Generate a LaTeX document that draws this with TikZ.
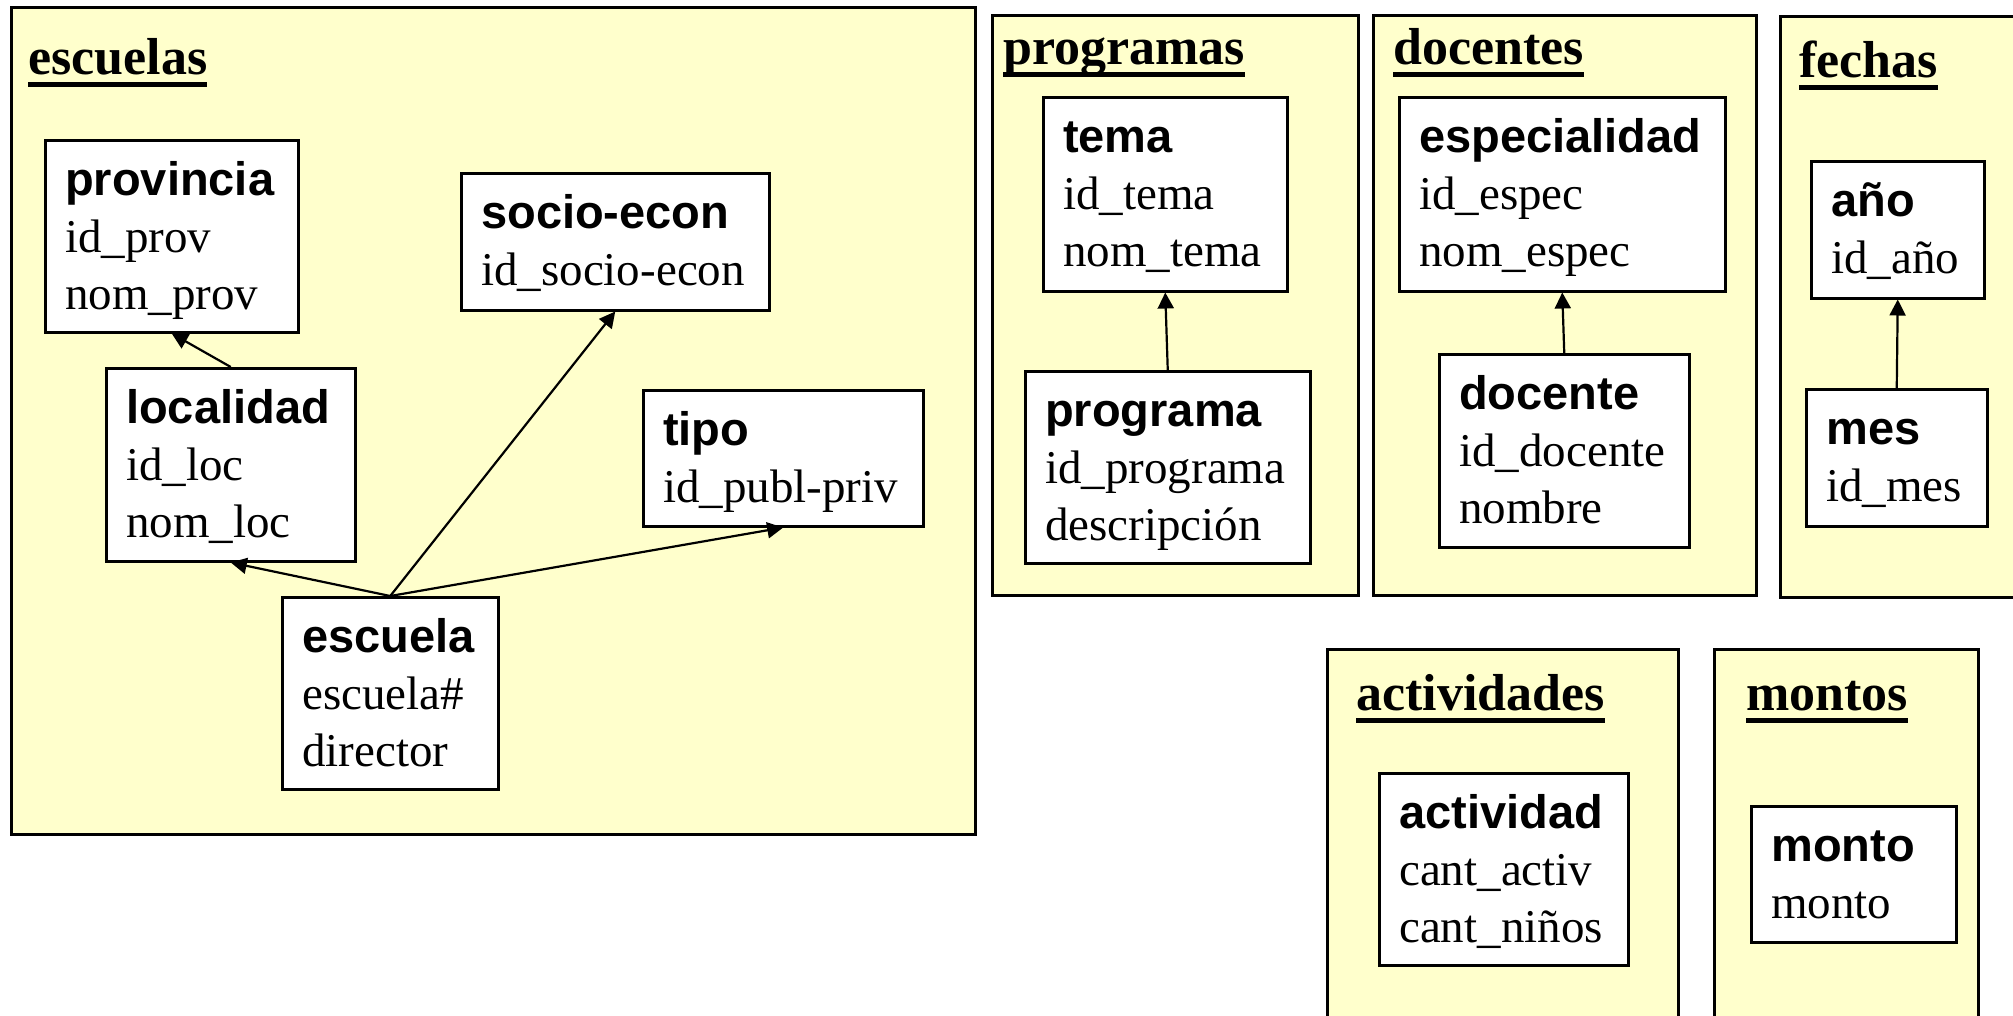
\documentclass[tikz,border=0pt]{standalone}
\usepackage{fontspec}
\setmainfont{Liberation Serif}
\newfontfamily\entfont{Liberation Sans}
\usetikzlibrary{arrows.meta}
\definecolor{frameyellow}{HTML}{FFFFCC}
\newcommand\titleul[1]{\setbox0\hbox{#1}\rlap{\rule[-13pt]{\wd0}{5pt}}\box0}
\tikzset{
  grpframe/.style={draw=black, line width=2.5pt, fill=frameyellow, inner sep=0pt},
  entrect/.style={draw=black, line width=2.5pt, fill=white, inner sep=0pt},
  enttext/.style={anchor=base west, inner sep=0pt, font=\fontsize{47}{57}\selectfont},
  grouptitle/.style={anchor=base west, inner sep=0pt, font=\fontsize{52}{60}\selectfont\bfseries},
  fk/.style={line width=2.2pt, -{Triangle[length=16pt,width=16pt]}}
}
\newcommand\mkframe[5]{\node[grpframe, anchor=north west, minimum width={#4pt-#2pt}, minimum height={#5pt-#3pt}] (#1) at (#2,#3) {};}
\newcommand\mkent[5]{\node[entrect, anchor=north west, minimum width={#4pt-#2pt}, minimum height={#5pt-#3pt}] (#1) at (#2,#3) {};}
\newcommand\enttxt[3]{\node[enttext] (#1-t) at ([shift={(21pt,-56pt)}]#1.north west) {\begin{tabular}[t]{@{}l@{}}{\entfont\bfseries #2}#3\end{tabular}};}
\begin{document}
\begin{tikzpicture}[x=1pt,y=-1pt]
\clip (0,0) rectangle (2013,1015);
\fill[white] (0,0) rectangle (2013,1015);
% frames
\mkframe{escuelas}{10}{6}{974}{833}
\mkframe{programas}{991}{14}{1357}{594}
\mkframe{docentes}{1372}{14}{1755}{594}
\mkframe{fechas}{1779}{15}{2040}{596}
\mkframe{actividades}{1326}{648}{1677}{1040}
\mkframe{montos}{1713}{648}{1977}{1040}
% titles
\node[grouptitle] (escuelas-title) at (28,74) {\titleul{escuelas}};
\node[grouptitle] (programas-title) at (1003,64) {\titleul{programas}};
\node[grouptitle] (docentes-title) at (1393,64) {\titleul{docentes}};
\node[grouptitle] (fechas-title) at (1799,77) {\titleul{fechas}};
\node[grouptitle] (actividades-title) at (1356,710) {\titleul{actividades}};
\node[grouptitle] (montos-title) at (1746,710) {\titleul{montos}};
% entities
\mkent{provincia}{44}{139}{297}{331}
\enttxt{provincia}{provincia}{\\ id\_prov\\ nom\_prov}
\mkent{socio}{460}{172}{768}{309}
\enttxt{socio}{socio-econ}{\\ id\_socio-econ}
\mkent{localidad}{105}{367}{354}{560}
\enttxt{localidad}{localidad}{\\ id\_loc\\ nom\_loc}
\mkent{tipo}{642}{389}{922}{525}
\enttxt{tipo}{tipo}{\\ id\_publ-priv}
\mkent{escuela}{281}{596}{497}{788}
\enttxt{escuela}{escuela}{\\ escuela\#\\ director}
\mkent{tema}{1042}{96}{1286}{290}
\enttxt{tema}{tema}{\\ id\_tema\\ nom\_tema}
\mkent{programa}{1024}{370}{1309}{562}
\enttxt{programa}{programa}{\\ id\_programa\\ descripción}
\mkent{especialidad}{1398}{96}{1724}{290}
\enttxt{especialidad}{especialidad}{\\ id\_espec\\ nom\_espec}
\mkent{docente}{1438}{353}{1688}{546}
\enttxt{docente}{docente}{\\ id\_docente\\ nombre}
\mkent{anio}{1810}{160}{1983}{297}
\enttxt{anio}{año}{\\ id\_año}
\mkent{mes}{1805}{388}{1986}{525}
\enttxt{mes}{mes}{\\ id\_mes}
\mkent{actividad}{1378}{772}{1627}{964}
\enttxt{actividad}{actividad}{\\ cant\_activ\\ cant\_niños}
\mkent{monto}{1750}{805}{1955}{941}
\enttxt{monto}{monto}{\\ monto}
% connectors
\draw[fk] (localidad.north) -- (provincia.south);
\draw[fk] (escuela.north) -- (localidad.south);
\draw[fk] (escuela.north) -- (socio.south);
\draw[fk] (escuela.north) -- (tipo.south);
\draw[fk] (programa.north) -- (tema.south);
\draw[fk] (docente.north) -- (especialidad.south);
\draw[fk] (mes.north) -- (anio.south);
\end{tikzpicture}
\end{document}
